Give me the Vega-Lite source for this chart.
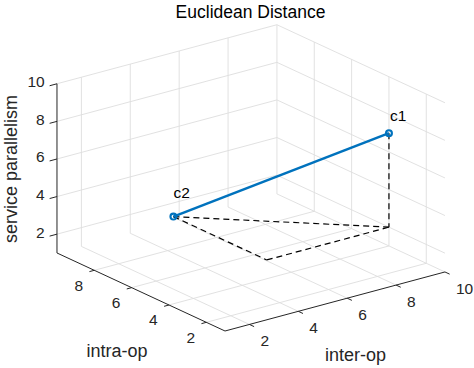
{
  "$schema": "https://vega.github.io/schema/vega-lite/v6.json",
  "width": 474,
  "height": 338,
  "autosize": {"type": "none"},
  "padding": {"left": 0, "top": 30, "right": 0, "bottom": 0},
  "background": "white",
  "config": {"view": {"stroke": null}, "text": {"font": "Liberation Sans"}},
  "title": {"text": "Euclidean Distance", "font": "Liberation Sans", "fontSize": 17.5, "fontWeight": "normal", "color": "#000000", "anchor": "middle", "offset": 3, "dx": 13.5},
  "datasets": {
    "grid": [
      {"x": 2, "y": 1, "z": 1, "xe": 2, "ye": 10, "ze": 1},
      {"x": 4, "y": 1, "z": 1, "xe": 4, "ye": 10, "ze": 1},
      {"x": 6, "y": 1, "z": 1, "xe": 6, "ye": 10, "ze": 1},
      {"x": 8, "y": 1, "z": 1, "xe": 8, "ye": 10, "ze": 1},
      {"x": 10, "y": 1, "z": 1, "xe": 10, "ye": 10, "ze": 1},
      {"x": 1, "y": 2, "z": 1, "xe": 10, "ye": 2, "ze": 1},
      {"x": 1, "y": 4, "z": 1, "xe": 10, "ye": 4, "ze": 1},
      {"x": 1, "y": 6, "z": 1, "xe": 10, "ye": 6, "ze": 1},
      {"x": 1, "y": 8, "z": 1, "xe": 10, "ye": 8, "ze": 1},
      {"x": 2, "y": 10, "z": 1, "xe": 2, "ye": 10, "ze": 10},
      {"x": 4, "y": 10, "z": 1, "xe": 4, "ye": 10, "ze": 10},
      {"x": 6, "y": 10, "z": 1, "xe": 6, "ye": 10, "ze": 10},
      {"x": 8, "y": 10, "z": 1, "xe": 8, "ye": 10, "ze": 10},
      {"x": 10, "y": 10, "z": 1, "xe": 10, "ye": 10, "ze": 10},
      {"x": 1, "y": 10, "z": 2, "xe": 10, "ye": 10, "ze": 2},
      {"x": 1, "y": 10, "z": 4, "xe": 10, "ye": 10, "ze": 4},
      {"x": 1, "y": 10, "z": 6, "xe": 10, "ye": 10, "ze": 6},
      {"x": 1, "y": 10, "z": 8, "xe": 10, "ye": 10, "ze": 8},
      {"x": 1, "y": 10, "z": 10, "xe": 10, "ye": 10, "ze": 10},
      {"x": 10, "y": 2, "z": 1, "xe": 10, "ye": 2, "ze": 10},
      {"x": 10, "y": 4, "z": 1, "xe": 10, "ye": 4, "ze": 10},
      {"x": 10, "y": 6, "z": 1, "xe": 10, "ye": 6, "ze": 10},
      {"x": 10, "y": 8, "z": 1, "xe": 10, "ye": 8, "ze": 10},
      {"x": 10, "y": 1, "z": 2, "xe": 10, "ye": 10, "ze": 2},
      {"x": 10, "y": 1, "z": 4, "xe": 10, "ye": 10, "ze": 4},
      {"x": 10, "y": 1, "z": 6, "xe": 10, "ye": 10, "ze": 6},
      {"x": 10, "y": 1, "z": 8, "xe": 10, "ye": 10, "ze": 8},
      {"x": 10, "y": 1, "z": 10, "xe": 10, "ye": 10, "ze": 10}
    ],
    "axes": [
      {"x": 1, "y": 1, "z": 1, "xe": 10, "ye": 1, "ze": 1},
      {"x": 1, "y": 1, "z": 1, "xe": 1, "ye": 10, "ze": 1},
      {"x": 1, "y": 10, "z": 1, "xe": 1, "ye": 10, "ze": 10}
    ],
    "ticks": [
      {"ax": "x", "x": 2, "y": 1, "z": 1, "lab": "2"},
      {"ax": "x", "x": 4, "y": 1, "z": 1, "lab": "4"},
      {"ax": "x", "x": 6, "y": 1, "z": 1, "lab": "6"},
      {"ax": "x", "x": 8, "y": 1, "z": 1, "lab": "8"},
      {"ax": "x", "x": 10, "y": 1, "z": 1, "lab": "10"},
      {"ax": "y", "x": 1, "y": 2, "z": 1, "lab": "2"},
      {"ax": "y", "x": 1, "y": 4, "z": 1, "lab": "4"},
      {"ax": "y", "x": 1, "y": 6, "z": 1, "lab": "6"},
      {"ax": "y", "x": 1, "y": 8, "z": 1, "lab": "8"},
      {"ax": "z", "x": 1, "y": 10, "z": 2, "lab": "2"},
      {"ax": "z", "x": 1, "y": 10, "z": 4, "lab": "4"},
      {"ax": "z", "x": 1, "y": 10, "z": 6, "lab": "6"},
      {"ax": "z", "x": 1, "y": 10, "z": 8, "lab": "8"},
      {"ax": "z", "x": 1, "y": 10, "z": 10, "lab": "10"}
    ],
    "dash": [
      {"x": 10, "y": 4, "z": 7, "xe": 10, "ye": 4, "ze": 2},
      {"x": 5, "y": 9, "z": 2, "xe": 10, "ye": 4, "ze": 2},
      {"x": 5, "y": 9, "z": 2, "xe": 5, "ye": 4, "ze": 2},
      {"x": 5, "y": 4, "z": 2, "xe": 10, "ye": 4, "ze": 2}
    ],
    "link": [
      {"x": 5, "y": 9, "z": 2, "xe": 10, "ye": 4, "ze": 7}
    ],
    "pts": [
      {"lab": "c1", "x": 10, "y": 4, "z": 7},
      {"lab": "c2", "x": 5, "y": 9, "z": 2}
    ]
  },
  "encoding": {
    "x": {"field": "u", "type": "quantitative", "scale": {"domain": [-225, 249], "nice": false, "zero": false}, "axis": null},
    "y": {"field": "v", "type": "quantitative", "scale": {"domain": [-37, 301], "nice": false, "zero": false}, "axis": null}
  },
  "layer": [
    {
      "data": {"name": "grid"},
      "transform": [
        {"calculate": "(datum.x-1)*24.44-(datum.y-1)*18.67", "as": "u"},
        {"calculate": "(datum.x-1)*6.56+(datum.y-1)*8.67+(datum.z-1)*18.8", "as": "v"},
        {"calculate": "(datum.xe-1)*24.44-(datum.ye-1)*18.67", "as": "ue"},
        {"calculate": "(datum.xe-1)*6.56+(datum.ye-1)*8.67+(datum.ze-1)*18.8", "as": "ve"}
      ],
      "mark": {"type": "rule", "color": "#dedede", "strokeWidth": 0.9},
      "encoding": {"x2": {"field": "ue"}, "y2": {"field": "ve"}}
    },
    {
      "data": {"name": "axes"},
      "transform": [
        {"calculate": "(datum.x-1)*24.44-(datum.y-1)*18.67", "as": "u"},
        {"calculate": "(datum.x-1)*6.56+(datum.y-1)*8.67+(datum.z-1)*18.8", "as": "v"},
        {"calculate": "(datum.xe-1)*24.44-(datum.ye-1)*18.67", "as": "ue"},
        {"calculate": "(datum.xe-1)*6.56+(datum.ye-1)*8.67+(datum.ze-1)*18.8", "as": "ve"}
      ],
      "mark": {"type": "rule", "color": "#262626", "strokeWidth": 1},
      "encoding": {"x2": {"field": "ue"}, "y2": {"field": "ve"}}
    },
    {
      "data": {"name": "ticks"},
      "transform": [
        {"calculate": "datum.ax=='x' ? datum.x : datum.x-(datum.ax=='y' ? 0.2 : 0.3)", "as": "xe"},
        {"calculate": "datum.ax=='x' ? datum.y-0.25 : datum.y", "as": "ye"},
        {"calculate": "(datum.x-1)*24.44-(datum.y-1)*18.67", "as": "u"},
        {"calculate": "(datum.x-1)*6.56+(datum.y-1)*8.67+(datum.z-1)*18.8", "as": "v"},
        {"calculate": "(datum.xe-1)*24.44-(datum.ye-1)*18.67", "as": "ue"},
        {"calculate": "(datum.xe-1)*6.56+(datum.ye-1)*8.67+(datum.z-1)*18.8", "as": "ve"}
      ],
      "mark": {"type": "rule", "color": "#262626", "strokeWidth": 1},
      "encoding": {"x2": {"field": "ue"}, "y2": {"field": "ve"}}
    },
    {
      "data": {"name": "ticks"},
      "transform": [
        {"filter": "datum.ax=='x'"},
        {"calculate": "(datum.x-1)*24.44-(datum.y-1)*18.67", "as": "u"},
        {"calculate": "(datum.x-1)*6.56+(datum.y-1)*8.67+(datum.z-1)*18.8", "as": "v"}
      ],
      "mark": {"type": "text", "align": "left", "baseline": "middle", "dx": 11, "dy": 16.8, "fontSize": 15.5, "color": "#262626"},
      "encoding": {"text": {"field": "lab"}}
    },
    {
      "data": {"name": "ticks"},
      "transform": [
        {"filter": "datum.ax=='y'"},
        {"calculate": "(datum.x-1)*24.44-(datum.y-1)*18.67", "as": "u"},
        {"calculate": "(datum.x-1)*6.56+(datum.y-1)*8.67+(datum.z-1)*18.8", "as": "v"}
      ],
      "mark": {"type": "text", "align": "right", "baseline": "middle", "dx": -11.3, "dy": 15.5, "fontSize": 15.5, "color": "#262626"},
      "encoding": {"text": {"field": "lab"}}
    },
    {
      "data": {"name": "ticks"},
      "transform": [
        {"filter": "datum.ax=='z'"},
        {"calculate": "(datum.x-1)*24.44-(datum.y-1)*18.67", "as": "u"},
        {"calculate": "(datum.x-1)*6.56+(datum.y-1)*8.67+(datum.z-1)*18.8", "as": "v"}
      ],
      "mark": {"type": "text", "align": "right", "baseline": "middle", "dx": -12.3, "dy": -1.5, "fontSize": 15.5, "color": "#262626"},
      "encoding": {"text": {"field": "lab"}}
    },
    {
      "data": {"values": [{"lab": "inter-op", "x": 5.5, "y": 1, "z": 1}]},
      "transform": [
        {"calculate": "(datum.x-1)*24.44-(datum.y-1)*18.67", "as": "u"},
        {"calculate": "(datum.x-1)*6.56+(datum.y-1)*8.67+(datum.z-1)*18.8", "as": "v"}
      ],
      "mark": {"type": "text", "align": "center", "baseline": "alphabetic", "dx": 20.5, "dy": 60, "fontSize": 18, "color": "#262626"},
      "encoding": {"text": {"field": "lab"}}
    },
    {
      "data": {"values": [{"lab": "intra-op", "x": 1, "y": 5.5, "z": 1}]},
      "transform": [
        {"calculate": "(datum.x-1)*24.44-(datum.y-1)*18.67", "as": "u"},
        {"calculate": "(datum.x-1)*6.56+(datum.y-1)*8.67+(datum.z-1)*18.8", "as": "v"}
      ],
      "mark": {"type": "text", "align": "center", "baseline": "alphabetic", "dx": -24, "dy": 65.5, "fontSize": 18, "color": "#262626"},
      "encoding": {"text": {"field": "lab"}}
    },
    {
      "data": {"values": [{"lab": "service parallelism", "x": 1, "y": 10, "z": 5.5}]},
      "transform": [
        {"calculate": "(datum.x-1)*24.44-(datum.y-1)*18.67", "as": "u"},
        {"calculate": "(datum.x-1)*6.56+(datum.y-1)*8.67+(datum.z-1)*18.8", "as": "v"}
      ],
      "mark": {"type": "text", "align": "center", "baseline": "middle", "angle": 270, "dx": -0.6, "dy": -44.5, "fontSize": 18, "color": "#262626"},
      "encoding": {"text": {"field": "lab"}}
    },
    {
      "data": {"name": "dash"},
      "transform": [
        {"calculate": "(datum.x-1)*24.44-(datum.y-1)*18.67", "as": "u"},
        {"calculate": "(datum.x-1)*6.56+(datum.y-1)*8.67+(datum.z-1)*18.8", "as": "v"},
        {"calculate": "(datum.xe-1)*24.44-(datum.ye-1)*18.67", "as": "ue"},
        {"calculate": "(datum.xe-1)*6.56+(datum.ye-1)*8.67+(datum.ze-1)*18.8", "as": "ve"}
      ],
      "mark": {"type": "rule", "color": "#000000", "strokeWidth": 1.2, "strokeDash": [6, 4]},
      "encoding": {"x2": {"field": "ue"}, "y2": {"field": "ve"}}
    },
    {
      "data": {"name": "link"},
      "transform": [
        {"calculate": "(datum.x-1)*24.44-(datum.y-1)*18.67", "as": "u"},
        {"calculate": "(datum.x-1)*6.56+(datum.y-1)*8.67+(datum.z-1)*18.8", "as": "v"},
        {"calculate": "(datum.xe-1)*24.44-(datum.ye-1)*18.67", "as": "ue"},
        {"calculate": "(datum.xe-1)*6.56+(datum.ye-1)*8.67+(datum.ze-1)*18.8", "as": "ve"}
      ],
      "mark": {"type": "rule", "color": "#0072BD", "strokeWidth": 2.6},
      "encoding": {"x2": {"field": "ue"}, "y2": {"field": "ve"}}
    },
    {
      "data": {"name": "pts"},
      "transform": [
        {"calculate": "(datum.x-1)*24.44-(datum.y-1)*18.67", "as": "u"},
        {"calculate": "(datum.x-1)*6.56+(datum.y-1)*8.67+(datum.z-1)*18.8", "as": "v"}
      ],
      "mark": {"type": "point", "shape": "circle", "filled": false, "size": 34, "strokeWidth": 2.2, "color": "#0072BD", "opacity": 1}
    },
    {
      "data": {"name": "pts"},
      "transform": [
        {"filter": "datum.lab=='c1'"},
        {"calculate": "(datum.x-1)*24.44-(datum.y-1)*18.67", "as": "u"},
        {"calculate": "(datum.x-1)*6.56+(datum.y-1)*8.67+(datum.z-1)*18.8", "as": "v"}
      ],
      "mark": {"type": "text", "align": "left", "baseline": "middle", "dx": 1, "dy": -17, "fontSize": 15.5, "color": "#000000"},
      "encoding": {"text": {"field": "lab"}}
    },
    {
      "data": {"name": "pts"},
      "transform": [
        {"filter": "datum.lab=='c2'"},
        {"calculate": "(datum.x-1)*24.44-(datum.y-1)*18.67", "as": "u"},
        {"calculate": "(datum.x-1)*6.56+(datum.y-1)*8.67+(datum.z-1)*18.8", "as": "v"}
      ],
      "mark": {"type": "text", "align": "left", "baseline": "middle", "dx": 0, "dy": -23.5, "fontSize": 15.5, "color": "#000000"},
      "encoding": {"text": {"field": "lab"}}
    }
  ]
}
